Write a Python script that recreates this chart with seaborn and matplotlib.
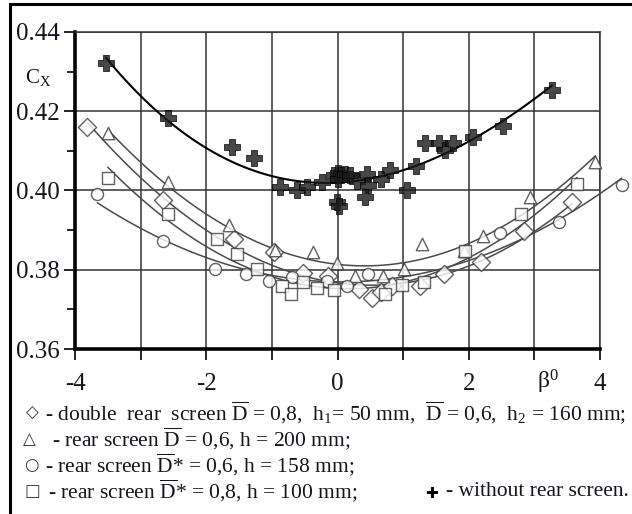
import numpy as np
import matplotlib
matplotlib.use("Agg")
import matplotlib.pyplot as plt
import seaborn as sns
from matplotlib.patches import Rectangle
from matplotlib.ticker import MultipleLocator, FixedLocator

# drag coefficient Cx vs yaw angle beta (deg)
plus_x = [-3.53, -2.58, -1.61, -1.27, -0.88, -0.62, -0.47, -0.23, -0.05, 0.0, 0.05,
          0.0, -0.01, 0.02, 0.12, 0.19, 0.29, 0.45, 0.47, 0.42, 0.67, 0.80, 1.06,
          1.19, 1.33, 1.54, 1.64, 1.76, 2.06, 2.52, 3.27]
plus_y = [0.4322, 0.4183, 0.4111, 0.4082, 0.4008, 0.4002, 0.4008, 0.4021, 0.4040, 0.4045, 0.4038,
          0.4028, 0.3970, 0.3962, 0.4042, 0.4038, 0.4025, 0.4042, 0.4013, 0.3983, 0.4030, 0.4052, 0.4000,
          0.4061, 0.4120, 0.4120, 0.4101, 0.4120, 0.4135, 0.4164, 0.4253]

diam_x = [-3.81, -2.66, -1.57, -0.97, -0.52, -0.14, 0.32, 0.52, 0.67, 0.83, 1.26, 1.63, 2.18, 2.84, 3.58]
diam_y = [0.4159, 0.3976, 0.3878, 0.3844, 0.3792, 0.3785, 0.3751, 0.3728, 0.3743, 0.3759, 0.3760,
          0.3789, 0.3820, 0.3899, 0.3970]

tri_x = [-3.49, -2.59, -1.66, -0.95, -0.38, -0.01, 0.27, 0.70, 1.01, 1.29, 1.92, 2.21, 2.93, 3.93]
tri_y = [0.4144, 0.4021, 0.3913, 0.3850, 0.3844, 0.3816, 0.3785, 0.3784, 0.3801, 0.3864, 0.3848,
         0.3884, 0.3983, 0.4072]

circ_x = [-3.66, -2.66, -1.87, -1.39, -1.05, -0.70, -0.16, 0.14, 0.47, 2.47, 3.37, 4.33]
circ_y = [0.3992, 0.3872, 0.3802, 0.3789, 0.3772, 0.3782, 0.3772, 0.3760, 0.3789, 0.3892, 0.3920, 0.4013]

sq_x = [-3.50, -2.58, -1.83, -1.53, -1.23, -0.85, -0.71, -0.52, -0.32, -0.06, 0.72, 0.99, 1.32,
        1.94, 2.80, 3.65]
sq_y = [0.4032, 0.3941, 0.3878, 0.3840, 0.3802, 0.3760, 0.3738, 0.3768, 0.3753, 0.3749, 0.3738,
        0.3762, 0.3768, 0.3848, 0.3941, 0.4017]

x_ticks = [-4, -3, -2, -1, 0, 1, 2, 3, 4]
x_labels = ["-4", "", "-2", "", "0", "", "2", "", "4"]
y_ticks = [0.36, 0.38, 0.40, 0.42, 0.44]
y_labels = ["0.36", "0.38", "0.40", "0.42", "0.44"]

# first and last lines are justified in the source, hence the wider gaps
legend_lines = [
    ("\u25c7", r"- double  rear  screen $\overline{\mathrm{D}}$ = 0,8,  h$_1$= 50 mm,  "
               r"$\overline{\mathrm{D}}$ = 0,6,  h$_2$ = 160 mm;"),
    ("\u25b3", r"- rear screen $\overline{\mathrm{D}}$ = 0,6, h = 200 mm;"),
    ("\u25cb", r"- rear screen $\overline{\mathrm{D}}$* = 0,6, h = 158 mm;"),
    ("\u25a1", r"- rear screen $\overline{\mathrm{D}}$* = 0,8, h = 100 mm;"),
]
no_screen_label = "- without rear screen."

sns.set_theme(style="white")
plt.rcParams["font.family"] = ["Liberation Serif", "DejaVu Sans"]
plt.rcParams["mathtext.fontset"] = "custom"
plt.rcParams["mathtext.rm"] = "Liberation Serif"
plt.rcParams["mathtext.it"] = "Liberation Serif:italic"

ink = "#141420"
edge = "#3a3a3a"

fig = plt.figure(figsize=(6.32, 5.14), dpi=100)
ax = fig.add_axes([75 / 632, 1 - 349 / 514, 525 / 632, 317 / 514])

series = [
    (diam_x, diam_y, "D", 85),
    (tri_x, tri_y, "^", 80),
    (circ_x, circ_y, "o", 75),
    (sq_x, sq_y, "s", 65),
]
for xs, ys, mk, size in series:
    sns.regplot(x=np.array(xs), y=np.array(ys), order=2, ci=None, ax=ax, marker=mk,
                scatter_kws={"s": size, "facecolors": "white", "edgecolors": edge,
                             "linewidths": 1.0, "clip_on": False, "zorder": 4},
                line_kws={"color": "#4a4a4a", "lw": 1.1, "clip_on": False, "zorder": 3})

sns.regplot(x=np.array(plus_x), y=np.array(plus_y), order=3, ci=None, ax=ax, marker="P",
            scatter_kws={"s": 125, "facecolors": "#1a1a1a", "edgecolors": "black",
                         "linewidths": 0.6, "zorder": 5},
            line_kws={"color": "black", "lw": 1.5, "zorder": 3})

ax.set_xlim(-4, 4)
ax.set_ylim(0.36, 0.44)
ax.set_xlabel("")
ax.set_ylabel("")
ax.xaxis.set_major_locator(FixedLocator(x_ticks))
ax.set_xticklabels(x_labels)
ax.set_yticks(y_ticks)
ax.set_yticklabels(y_labels)
ax.yaxis.set_minor_locator(MultipleLocator(0.01))

ax.grid(True, which="major", color="#333333", lw=1.1)
ax.set_axisbelow(True)
for side in ["left", "bottom"]:
    ax.spines[side].set_color("black")
    ax.spines[side].set_linewidth(2.6)
for side in ["top", "right"]:
    ax.spines[side].set_color("#333333")
    ax.spines[side].set_linewidth(1.1)

ax.tick_params(axis="both", which="major", direction="out", length=8, width=1.2,
               color="black", labelsize=18, labelcolor=ink, pad=3)
ax.tick_params(axis="y", which="minor", direction="out", length=6, width=1.2,
               color="black", left=True)
ax.tick_params(axis="x", which="major", pad=9)
ax.tick_params(bottom=True, left=True)

fig.text(38 / 632, 1 - 78 / 514, r"C$_{\mathrm{X}}$", fontsize=15, color=ink,
         ha="center", va="center")
fig.text(548 / 632, 1 - 382 / 514, r"$\mathrm{\beta}^{0}$", fontsize=17, color=ink,
         ha="center", va="center")

# legend block under the axes
rows_y = [413, 439, 465, 491]
text_x = [45, 52, 45, 48]
sym_x = [32, 29, 31, 32]
for (sym, label), yy, tx, sx in zip(legend_lines, rows_y, text_x, sym_x):
    fig.text(sx / 632, 1 - yy / 514, sym, fontsize=12, color=edge,
             family="DejaVu Sans", ha="center", va="center")
    fig.text(tx / 632, 1 - yy / 514, label, fontsize=15.5, color=ink, ha="left", va="center")
fig.text(431 / 632, 1 - 493 / 514, "\u271a", fontsize=11, color="black",
         family="DejaVu Sans", ha="center", va="center")
fig.text(446 / 632, 1 - 491 / 514, no_screen_label, fontsize=15.5, color=ink,
         ha="left", va="center")

# outer frame of the original figure
fig.patches.append(Rectangle((10 / 632, -0.1), 1.2, 1.1 - 4 / 514, transform=fig.transFigure,
                             fill=False, edgecolor="black", lw=2.2))

fig.savefig("out.png", dpi=100)
